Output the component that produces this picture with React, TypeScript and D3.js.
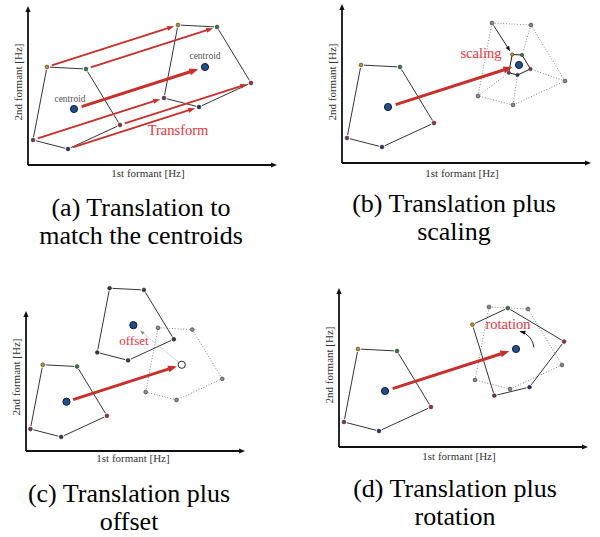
import * as d3 from "d3";

type Pt = [number, number];

// formant-plane coordinates, in axis units from the corner of the axes
const vowelPoints: Pt[] = [
  [19, 98],
  [58, 96],
  [92, 40],
  [40, 16],
  [5, 25],
];
const centroidPoint: Pt = [46, 56];
const translation: Pt = [131, 42];
const scalingFactor = 0.25;
const offsetShift: Pt = [-55, 45];
const rotationDeg = 28;
const axisExtent: Pt = [249, 159];

const vertexColors = ["#c39121", "#2e7b3c", "#a12a2c", "#24306c", "#7a2e5a"];

const captions = [
  ["(a) Translation to", "match the centroids"],
  ["(b) Translation plus", "scaling"],
  ["(c) Translation plus", "offset"],
  ["(d) Translation plus", "rotation"],
];
const noteLabels = ["Transform", "scaling", "offset", "rotation"];
const centroidLabel = "centroid";
const xAxisLabel = "1st formant [Hz]";
const yAxisLabel = "2nd formant [Hz]";

const PANELS = [
  { origin: [28, 165], k: 1, xLab: [148, 177], yLab: [22, 82], cap: [141, 216], note: [178, 135] },
  { origin: [342, 163], k: 1, xLab: [462, 177], yLab: [336, 82], cap: [454, 212], note: [481, 58] },
  { origin: [26, 451], k: 0.88, xLab: [133, 462], yLab: [20, 377], cap: [129, 502], note: [134, 345] },
  { origin: [339, 447], k: 1, xLab: [459, 460], yLab: [333, 365], cap: [455, 497], note: [508, 329] },
];

const FONT = "'Liberation Serif', 'Times New Roman', serif";
const RED = "#c8302c";
const TEXT_RED = "#e8353b";

const add = (a: Pt, b: Pt): Pt => [a[0] + b[0], a[1] + b[1]];
const scaleAbout = (p: Pt, c: Pt, s: number): Pt => [c[0] + (p[0] - c[0]) * s, c[1] + (p[1] - c[1]) * s];
const rotateAbout = (p: Pt, c: Pt, deg: number): Pt => {
  const r = (deg * Math.PI) / 180;
  const dx = p[0] - c[0];
  const dy = p[1] - c[1];
  return [c[0] + dx * Math.cos(r) - dy * Math.sin(r), c[1] + dx * Math.sin(r) + dy * Math.cos(r)];
};

// shorten a segment at both ends (screen px)
const trim = (a: Pt, b: Pt, g1: number, g2: number): [Pt, Pt] => {
  const dx = b[0] - a[0];
  const dy = b[1] - a[1];
  const len = Math.hypot(dx, dy) || 1;
  const ux = dx / len;
  const uy = dy / len;
  return [
    [a[0] + ux * g1, a[1] + uy * g1],
    [b[0] - ux * g2, b[1] - uy * g2],
  ];
};

type ArrowOpts = { g1: number; g2: number; w: number; hl: number; hw: number; color: string; dash?: string };

const Arrow = ({ a, b, o }: { a: Pt; b: Pt; o: ArrowOpts }) => {
  const [s, t] = trim(a, b, o.g1, o.g2);
  const dx = t[0] - s[0];
  const dy = t[1] - s[1];
  const len = Math.hypot(dx, dy) || 1;
  const ux = dx / len;
  const uy = dy / len;
  const base: Pt = [t[0] - ux * o.hl, t[1] - uy * o.hl];
  const head = [
    t,
    [base[0] - uy * o.hw / 2, base[1] + ux * o.hw / 2],
    [base[0] + uy * o.hw / 2, base[1] - ux * o.hw / 2],
  ];
  return (
    <g>
      <line
        x1={s[0]} y1={s[1]} x2={base[0] + ux * 0.5} y2={base[1] + uy * 0.5}
        stroke={o.color} strokeWidth={o.w} strokeDasharray={o.dash}
      />
      <polygon points={head.map((p) => p.join(",")).join(" ")} fill={o.color} />
    </g>
  );
};

const Edges = ({ pts, dotted, gap = 3, w = 0.9 }: { pts: Pt[]; dotted?: boolean; gap?: number; w?: number }) => (
  <g>
    {pts.map((p, i) => {
      const [s, t] = trim(p, pts[(i + 1) % pts.length], gap, gap);
      return (
        <line
          key={i}
          x1={s[0]} y1={s[1]} x2={t[0]} y2={t[1]}
          stroke={dotted ? "#777" : "#1e1e1e"}
          strokeWidth={dotted ? 0.9 : w}
          strokeDasharray={dotted ? "1,1.8" : undefined}
        />
      );
    })}
  </g>
);

const Dots = ({ pts, gray, dark, r = 1.9 }: { pts: Pt[]; gray?: boolean; dark?: boolean; r?: number }) => (
  <g>
    {pts.map((p, i) => (
      <circle
        key={i} cx={p[0]} cy={p[1]} r={r}
        fill={gray ? "#8a8a8a" : dark ? "#3a3440" : vertexColors[i]}
        stroke="#333" strokeWidth={0.6}
      />
    ))}
  </g>
);

const Centroid = ({ p, open }: { p: Pt; open?: boolean }) => (
  <circle cx={p[0]} cy={p[1]} r={3.6} fill={open ? "#fff" : "#1f4f8f"} stroke="#111" strokeWidth={0.9} />
);

const thinRed: ArrowOpts = { g1: 5, g2: 4, w: 1.8, hl: 7, hw: 5, color: RED };
const thickRed: ArrowOpts = { g1: 8, g2: 7, w: 3, hl: 9, hw: 7, color: RED };

const Panel = ({ idx }: { idx: number }) => {
  const cfg = PANELS[idx];
  const [ox, oy] = cfg.origin;
  const x = d3.scaleLinear().domain([0, axisExtent[0]]).range([ox, ox + axisExtent[0] * cfg.k]);
  const y = d3.scaleLinear().domain([0, axisExtent[1]]).range([oy, oy - axisExtent[1] * cfg.k]);
  const px = (p: Pt): Pt => [x(p[0]), y(p[1])];

  const cDst = add(centroidPoint, translation);
  const src = vowelPoints.map(px);
  const moved = vowelPoints.map((p) => px(add(p, translation)));
  const c0 = px(centroidPoint);
  const c1 = px(cDst);

  let body: JSX.Element | null = null;

  if (idx === 0) {
    body = (
      <g>
        <Edges pts={src} />
        <Edges pts={moved} />
        {src.map((p, i) => (
          <Arrow key={i} a={p} b={moved[i]} o={thinRed} />
        ))}
        <Arrow a={c0} b={c1} o={thickRed} />
        <Dots pts={src} />
        <Dots pts={moved} />
        <Centroid p={c0} />
        <Centroid p={c1} />
        <text x={c0[0] - 4} y={c0[1] - 7} fontSize={9.5} fill="#555" textAnchor="middle">{centroidLabel}</text>
        <text x={c1[0]} y={c1[1] - 8} fontSize={9.5} fill="#555" textAnchor="middle">{centroidLabel}</text>
      </g>
    );
  } else if (idx === 1) {
    const small = vowelPoints.map((p) => px(scaleAbout(add(p, translation), cDst, scalingFactor)));
    body = (
      <g>
        <Edges pts={src} />
        <Edges pts={moved} dotted gap={0} />
        {moved.slice(1).map((p, i) => {
          const [s, t] = trim(p, small[i + 1], 3, 3);
          return (
            <line key={i} x1={s[0]} y1={s[1]} x2={t[0]} y2={t[1]} stroke="#777" strokeWidth={0.9} strokeDasharray="1,1.8" />
          );
        })}
        <Arrow a={moved[0]} b={small[0]} o={{ g1: 3, g2: 4, w: 0.9, hl: 5, hw: 4, color: "#111" }} />
        <Edges pts={small} gap={1.5} w={1} />
        <Arrow a={c0} b={c1} o={thickRed} />
        <Dots pts={src} />
        <Dots pts={moved} gray />
        <Centroid p={c1} />
        <Dots pts={small} r={1.7} />
        <Centroid p={c0} />
      </g>
    );
  } else if (idx === 2) {
    const upper = vowelPoints.map((p) => px(add(add(p, translation), offsetShift)));
    const cUp = px(add(cDst, offsetShift));
    body = (
      <g>
        <Edges pts={src} />
        <Edges pts={moved} dotted gap={0} />
        <Edges pts={upper} />
        <Arrow a={c0} b={c1} o={{ ...thickRed, g1: 7, g2: 5 }} />
        <Arrow a={c1} b={cUp} o={{ g1: 3, g2: 9, w: 0.9, hl: 4, hw: 3.5, color: "#888", dash: "1,1.6" }} />
        <Dots pts={src} />
        <Dots pts={moved} gray />
        <Dots pts={upper} dark />
        <Centroid p={c0} />
        <Centroid p={cUp} />
        <Centroid p={c1} open />
      </g>
    );
  } else {
    const rot = vowelPoints.map((p) => px(rotateAbout(add(p, translation), cDst, rotationDeg)));
    const r = 18;
    const a0 = (-5 * Math.PI) / 180;
    const a1 = (-76 * Math.PI) / 180;
    const arc = d3.path();
    arc.arc(c1[0], c1[1], r, a0, a1, true);
    const tip: Pt = [c1[0] + r * Math.cos(a1), c1[1] + r * Math.sin(a1)];
    const dir: Pt = [Math.sin(a1), -Math.cos(a1)];
    const hl = 5;
    const hw = 4;
    const bx = tip[0] - dir[0] * hl;
    const by = tip[1] - dir[1] * hl;
    const tipF: Pt = [tip[0] + dir[0], tip[1] + dir[1]];
    const head = [
      tipF,
      [bx - dir[1] * hw / 2, by + dir[0] * hw / 2],
      [bx + dir[1] * hw / 2, by - dir[0] * hw / 2],
    ];
    body = (
      <g>
        <Edges pts={src} />
        <Edges pts={moved} dotted gap={0} />
        <Edges pts={rot} />
        <Arrow a={c0} b={c1} o={thickRed} />
        <path d={arc.toString()} fill="none" stroke="#111" strokeWidth={0.9} />
        <polygon points={head.map((p) => p.join(",")).join(" ")} fill="#111" />
        <Dots pts={src} />
        <Dots pts={moved} gray />
        <Dots pts={rot} />
        <Centroid p={c0} />
        <Centroid p={c1} />
      </g>
    );
  }

  const top = y(axisExtent[1]);
  const right = x(axisExtent[0]);

  return (
    <g fontFamily={FONT}>
      {/* axes */}
      <line x1={ox} y1={oy} x2={ox} y2={top + 4} stroke="#111" strokeWidth={1.8} />
      <line x1={ox} y1={oy} x2={right - 4} y2={oy} stroke="#111" strokeWidth={1.8} />
      <polygon points={`${ox},${top} ${ox - 2.6},${top + 6} ${ox + 2.6},${top + 6}`} fill="#111" />
      <polygon points={`${right},${oy} ${right - 6},${oy - 2.6} ${right - 6},${oy + 2.6}`} fill="#111" />
      <text x={cfg.xLab[0]} y={cfg.xLab[1]} fontSize={11} fill="#333" textAnchor="middle">{xAxisLabel}</text>
      <text
        transform={`translate(${cfg.yLab[0]},${cfg.yLab[1]}) rotate(-90)`}
        fontSize={11} fill="#333" textAnchor="middle"
      >
        {yAxisLabel}
      </text>
      {body}
      <text x={cfg.note[0]} y={cfg.note[1]} fontSize={idx === 2 ? 13 : 14.5} fill={TEXT_RED} textAnchor="middle">
        {noteLabels[idx]}
      </text>
      {captions[idx].map((line, i) => (
        <text key={i} x={cfg.cap[0]} y={cfg.cap[1] + i * 28} fontSize={26} fill="#000" textAnchor="middle">
          {line}
        </text>
      ))}
    </g>
  );
};

export default function App() {
  return (
    <svg
      width={600}
      height={537}
      viewBox="0 0 600 537"
      style={{ position: "absolute", left: 0, top: 0, background: "#fff" }}
    >
      {PANELS.map((_, i) => (
        <Panel key={i} idx={i} />
      ))}
    </svg>
  );
}
